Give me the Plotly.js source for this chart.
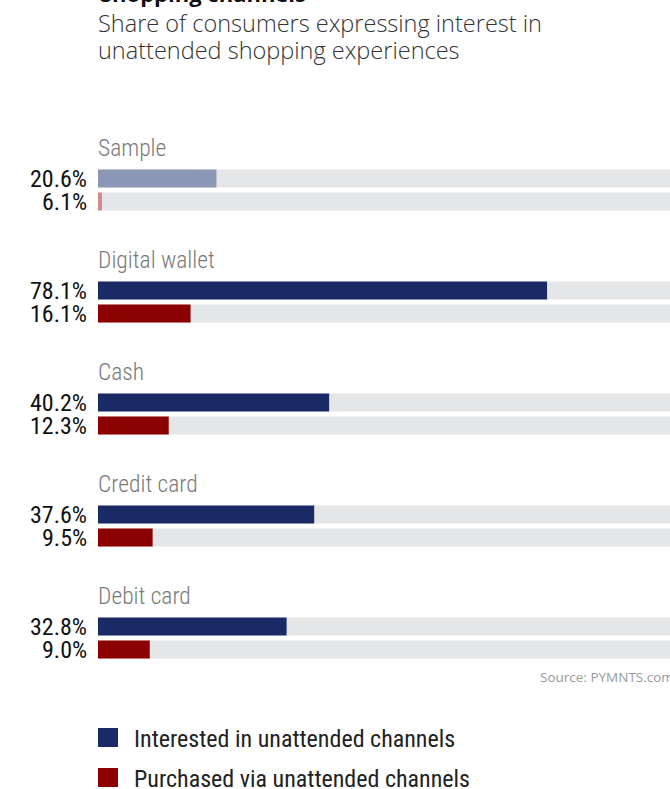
<!DOCTYPE html>
<html>
<head>
<meta charset="utf-8">
<script src="https://cdn.plot.ly/plotly-3.0.1.min.js"></script>
<style>html,body{margin:0;padding:0;background:#fff;}#chart{width:670px;height:789px;}</style>
</head>
<body>
<div id="chart"></div>
<script>
const categories = ['Sample', 'Digital wallet', 'Cash', 'Credit card', 'Debit card'];
const interested = [20.6, 78.1, 40.2, 37.6, 32.8];
const purchased = [6.1, 16.1, 12.3, 9.5, 9.0];
// bar lengths as drawn in the source graphic (the Sample purchased bar is drawn much shorter than its label)
const purchasedDrawn = [0.7, 16.1, 12.3, 9.5, 9.0];
const seriesNames = ['Interested in unattended channels', 'Purchased via unattended channels'];
const subtitleLines = ['Share of consumers expressing interest in', 'unattended shopping experiences'];
const fullScale = 100;

const W = 670, H = 789, ML = 98, MR = 0, MT = 100, MB = 89;
const plotW = W - ML - MR, plotH = H - MT - MB;
const groupPx = 112;
const bar2Off = 23 / groupPx;
const barW = 18 / groupPx;
const labelOff = -30.5 / groupPx;
const y0Px = 178.5 - MT;
const yTop = -y0Px / groupPx;
const yBot = (plotH - y0Px) / groupPx;
const px = p => (p - ML) / plotW;
const py = p => (H - MB - p) / plotH;

const navy = '#1a2a66', red = '#8b0000', navyLight = '#8c97b6', redLight = '#d38a8d', grey = '#e5e6e8';
const cond = '"Roboto Condensed", "DejaVu Sans Condensed", Roboto, sans-serif';

const yI = categories.map((c, i) => i);
const yP = categories.map((c, i) => i + bar2Off);

const traces = [
  {type: 'bar', orientation: 'h', x: yI.map(() => fullScale), y: yI, width: barW,
   marker: {color: grey}, hoverinfo: 'skip', showlegend: false},
  {type: 'bar', orientation: 'h', x: yP.map(() => fullScale), y: yP, width: barW,
   marker: {color: grey}, hoverinfo: 'skip', showlegend: false},
  {type: 'bar', orientation: 'h', x: interested, y: yI, width: barW, name: seriesNames[0],
   marker: {color: interested.map((v, i) => i === 0 ? navyLight : navy)}, showlegend: false},
  {type: 'bar', orientation: 'h', x: purchasedDrawn, y: yP, width: barW, name: seriesNames[1],
   customdata: purchased,
   marker: {color: purchased.map((v, i) => i === 0 ? redLight : red)}, showlegend: false}
];

const annotations = [];
categories.forEach((c, i) => {
  annotations.push({x: 0, y: i + labelOff, xref: 'x', yref: 'y', text: c, showarrow: false, xshift: -2,
    xanchor: 'left', yanchor: 'middle', font: {family: cond, size: 23.5, color: '#7a7a7a', weight: 300}});
  annotations.push({x: 0, y: yI[i], xref: 'x', yref: 'y', text: interested[i].toFixed(1) + '%', showarrow: false,
    xanchor: 'right', yanchor: 'middle', xshift: -9, font: {family: cond, size: 24, color: '#111'}});
  annotations.push({x: 0, y: yP[i], xref: 'x', yref: 'y', text: purchased[i].toFixed(1) + '%', showarrow: false,
    xanchor: 'right', yanchor: 'middle', xshift: -9, font: {family: cond, size: 24, color: '#111'}});
});
annotations.push({x: px(98), y: py(10), xref: 'paper', yref: 'paper', text: '<b>Shopping channels</b>', showarrow: false,
  xanchor: 'left', yanchor: 'bottom', font: {family: '"Open Sans", sans-serif', size: 22, color: '#111'}});
const subY = [23, 50];
subtitleLines.forEach((t, k) => {
  annotations.push({x: px(96), y: py(subY[k]), xref: 'paper', yref: 'paper', align: 'left',
    text: t, showarrow: false, xanchor: 'left', yanchor: 'middle',
    font: {family: '"Open Sans", sans-serif', size: 23.5, color: '#333', weight: 300}});
});
annotations.push({x: px(538), y: py(677), xref: 'paper', yref: 'paper', text: 'Source: PYMNTS.com', showarrow: false,
  xanchor: 'left', yanchor: 'middle', font: {family: '"Open Sans", sans-serif', size: 13.5, color: '#999'}});

const legendY = [737.5, 777.5];
const legendColors = [navy, red];
const shapes = [];
seriesNames.forEach((n, k) => {
  shapes.push({type: 'rect', xref: 'paper', yref: 'paper', x0: px(98), x1: px(118),
    y0: py(legendY[k] + 9.5), y1: py(legendY[k] - 9.5), fillcolor: legendColors[k], line: {width: 0}});
  annotations.push({x: px(132), y: py(legendY[k] + 1.5), xref: 'paper', yref: 'paper', text: n, showarrow: false,
    xanchor: 'left', yanchor: 'middle', font: {family: cond, size: 24, color: '#222'}});
});

const layout = {
  width: W, height: H,
  margin: {l: ML, r: MR, t: MT, b: MB, pad: 0},
  paper_bgcolor: '#fff', plot_bgcolor: '#fff',
  barmode: 'overlay', showlegend: false,
  xaxis: {range: [0, plotW / 5.75], visible: false, fixedrange: true},
  yaxis: {range: [yBot, yTop], visible: false, fixedrange: true},
  annotations: annotations, shapes: shapes
};

Plotly.newPlot('chart', traces, layout, {displayModeBar: false, staticPlot: true});
</script>
</body>
</html>
